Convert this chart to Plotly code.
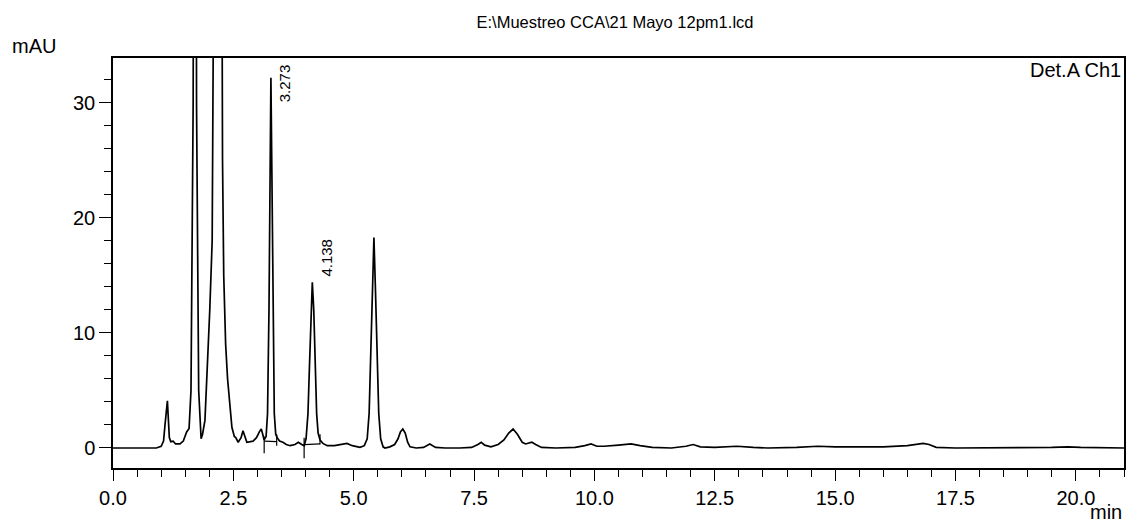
import plotly.graph_objects as go

# ---- data (time in min, signal in mAU) ----
time_min = [
    0.0, 0.5, 0.9, 1.0, 1.05, 1.08, 1.11, 1.13, 1.15, 1.17, 1.20, 1.25, 1.30, 1.39, 1.46, 1.53, 1.58,
    1.62, 1.665, 1.685, 1.70, 1.715, 1.735, 1.78, 1.83,
    1.86, 1.91, 1.96, 2.01, 2.06, 2.08, 2.10, 2.18, 2.25, 2.275, 2.30, 2.34, 2.38, 2.42, 2.47, 2.52,
    2.55, 2.60, 2.66, 2.70, 2.74, 2.78, 2.91, 2.98, 3.04, 3.08, 3.11, 3.14,
    3.18, 3.21, 3.24, 3.26, 3.28, 3.30, 3.32, 3.35, 3.38, 3.41, 3.46, 3.53, 3.60, 3.68, 3.78, 3.85, 3.92, 3.97,
    4.01, 4.05, 4.08, 4.11, 4.14, 4.17, 4.20, 4.23, 4.26, 4.30, 4.36, 4.45, 4.60, 4.75, 4.86, 4.97, 5.13, 5.22,
    5.28, 5.32, 5.36, 5.39, 5.42, 5.45, 5.48, 5.52, 5.56, 5.61, 5.65, 5.75, 5.85, 5.92, 5.97, 6.02, 6.07, 6.12,
    6.17, 6.30, 6.45, 6.58, 6.70, 6.90, 7.20, 7.45, 7.58, 7.65, 7.72, 7.85, 8.00, 8.12, 8.22, 8.31, 8.40, 8.50,
    8.57, 8.63, 8.70, 8.78, 8.90, 9.20, 9.60, 9.80, 9.93, 10.05, 10.20, 10.50, 10.76, 10.95, 11.20, 11.60,
    11.90, 12.05, 12.20, 12.50, 12.96, 13.30, 13.60, 14.20, 14.64, 15.00, 15.50, 16.00, 16.50, 16.70, 16.83,
    16.95, 17.10, 17.50, 18.50, 19.50, 19.83, 20.10, 21.0,
]
signal_mau = [
    0.0, 0.0, 0.0, 0.15, 0.6, 2.0, 3.6, 4.1, 2.5, 0.9, 0.55, 0.6, 0.35, 0.35, 0.6, 1.4, 1.7,
    5.0, 30.0, 90.0, 120.0, 90.0, 30.0, 5.0, 0.8,
    1.2, 2.4, 7.0, 12.0, 18.0, 34.0, 60.0, 110.0, 60.0, 25.0, 15.0, 9.0, 6.0, 4.0, 1.8, 1.0,
    0.9, 0.5, 0.9, 1.5, 0.9, 0.5, 0.6, 0.9, 1.4, 1.65, 1.2, 0.7,
    1.0, 3.0, 12.0, 24.0, 32.2, 24.0, 12.0, 3.0, 1.2, 0.9, 0.6, 0.5, 0.3, 0.2, 0.3, 0.5, 0.3, 0.2,
    0.8, 3.0, 7.0, 12.0, 14.4, 12.0, 7.0, 3.0, 1.3, 0.7, 0.4, 0.2, 0.2, 0.3, 0.4, 0.2, 0.05, 0.2,
    0.8, 3.0, 9.0, 14.0, 18.3, 14.0, 9.0, 3.0, 0.8, 0.1, 0.0, 0.1, 0.3, 0.8, 1.4, 1.65, 1.3, 0.5,
    0.1, 0.0, 0.05, 0.35, 0.05, 0.0, 0.0, 0.05, 0.3, 0.5, 0.25, 0.1, 0.3, 0.7, 1.3, 1.65, 1.2, 0.5,
    0.35, 0.45, 0.5, 0.3, 0.05, 0.0, 0.05, 0.2, 0.35, 0.15, 0.15, 0.25, 0.35, 0.2, 0.05, 0.0,
    0.15, 0.3, 0.1, 0.05, 0.15, 0.05, 0.0, 0.05, 0.15, 0.1, 0.1, 0.1, 0.2, 0.35, 0.4,
    0.3, 0.05, 0.0, 0.0, 0.05, 0.1, 0.05, 0.0,
]

# integration markers (peak start/end) and their baseline levels
integ_t = [3.14, 3.40, 3.97, 4.30]
integ_level = [0.6, 0.55, 0.3, 0.35]
integ_lo = [-0.45, 0.2, -0.9, 0.3]
integ_hi = [1.0, 1.2, 0.9, 1.2]

# labelled peaks
peak_labels = ["3.273", "4.138"]
peak_t = [3.273, 4.138]
peak_h = [32.2, 14.4]

x_ticks = [0.0, 2.5, 5.0, 7.5, 10.0, 12.5, 15.0, 17.5, 20.0]
y_ticks = [0, 10, 20, 30]

FONT = "Liberation Sans, Arial, sans-serif"

fig = go.Figure()
fig.add_trace(go.Scatter(x=time_min, y=signal_mau, mode="lines",
                         line=dict(color="black", width=1.7), hoverinfo="skip",
                         showlegend=False))

# integration marker segments
mx, my = [], []
for i in range(0, len(integ_t), 2):
    mx += [integ_t[i], integ_t[i + 1], None]
    my += [integ_level[i], integ_level[i + 1], None]
for t, lo, hi in zip(integ_t, integ_lo, integ_hi):
    mx += [t, t, None]
    my += [lo, hi, None]
fig.add_trace(go.Scatter(x=mx, y=my, mode="lines", line=dict(color="black", width=1.2),
                         hoverinfo="skip", showlegend=False))

for lab, t, h, ys in zip(peak_labels, peak_t, peak_h, [-6, 25]):
    fig.add_annotation(x=t, y=h, xref="x", yref="y", text=lab, textangle=-90,
                       showarrow=False, xshift=14, yshift=ys,
                       font=dict(family=FONT, size=15, color="black"))

fig.add_annotation(x=1, y=1, xref="paper", yref="paper", text="Det.A Ch1",
                   showarrow=False, xanchor="right", yanchor="middle", xshift=-1, yshift=-12,
                   font=dict(family=FONT, size=20, color="black"))
fig.add_annotation(x=0, y=1, xref="paper", yref="paper", text="mAU",
                   showarrow=False, xanchor="center", yanchor="middle", xshift=-79, yshift=12,
                   font=dict(family=FONT, size=20, color="black"))
fig.add_annotation(x=1, y=0, xref="paper", yref="paper", text="min",
                   showarrow=False, xanchor="right", yanchor="bottom", xshift=0, yshift=-57,
                   font=dict(family=FONT, size=20, color="black"))

fig.update_layout(
    width=1127, height=525,
    margin=dict(l=113, r=3, t=58, b=57, autoexpand=False),
    paper_bgcolor="white", plot_bgcolor="white",
    title=dict(text="E:\\Muestreo CCA\\21 Mayo 12pm1.lcd", x=615 / 1127, xanchor="center",
               y=1 - 22 / 525, yanchor="middle",
               font=dict(family=FONT, size=16.5, color="black")),
    font=dict(family=FONT, size=20, color="black"),
)
fig.update_xaxes(range=[0, 21.0], tickvals=x_ticks, ticktext=[f"{v:.1f}" for v in x_ticks],
                 ticks="outside", ticklen=11, tickwidth=1.3, tickcolor="black",
                 tickfont=dict(family=FONT, size=20, color="black"),
                 minor=dict(dtick=0.5, tick0=0, ticks="outside", ticklen=7, tickwidth=1.3,
                            tickcolor="black", showgrid=False),
                 showgrid=False, zeroline=False, showline=True, linecolor="black",
                 linewidth=1.5, mirror=True, automargin=False)
fig.update_yaxes(range=[-1.74, 33.91], tickvals=y_ticks, ticks="outside", ticklen=12,
                 tickwidth=1.3, tickcolor="black",
                 tickfont=dict(family=FONT, size=20, color="black"),
                 minor=dict(dtick=2, tick0=0, ticks="outside", ticklen=7, tickwidth=1.3,
                            tickcolor="black", showgrid=False),
                 showgrid=False, zeroline=False, showline=True, linecolor="black",
                 linewidth=1.5, mirror=True, automargin=False)

fig.write_html("out.html", config={"displayModeBar": False},
               post_script="document.body.style.margin='0px';")
